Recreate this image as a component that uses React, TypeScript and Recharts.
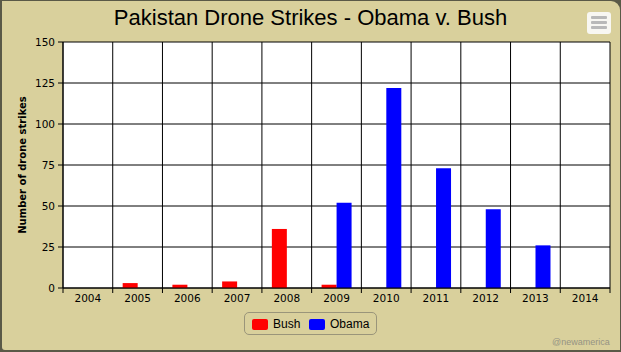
import React from 'react';
import { BarChart, Bar, XAxis, YAxis, CartesianGrid } from 'recharts';

const years = ['2004', '2005', '2006', '2007', '2008', '2009', '2010', '2011', '2012', '2013', '2014'];
const bushStrikes = [0, 3, 2, 4, 36, 2, 0, 0, 0, 0, 0];
const obamaStrikes = [0, 0, 0, 0, 0, 52, 122, 73, 48, 26, 0];
const yTicks = [0, 25, 50, 75, 100, 125, 150];

const data = years.map((y, i) => ({ year: y, bush: bushStrikes[i], obama: obamaStrikes[i] }));

const TICK_FONT = '"DejaVu Sans", Verdana, sans-serif';

const XTick = (props: any) => {
  const { x, y, payload, index, visibleTicksCount } = props;
  const half = payload && payload.offset ? payload.offset : 24.86;
  const isLast = index === (visibleTicksCount ?? years.length) - 1;
  return (
    <g>
      <line x1={x - half} x2={x - half} y1={y} y2={y + 5} stroke="#000" />
      {isLast && <line x1={x + half} x2={x + half} y1={y} y2={y + 5} stroke="#000" />}
      <text x={x} y={y + 14} textAnchor="middle" fontSize={10.5} fontFamily={TICK_FONT} fill="#000">
        {payload.value}
      </text>
    </g>
  );
};

const YLabel = (props: any) => {
  const vb = props.viewBox || { y: 42, height: 246 };
  const cy = vb.y + vb.height / 2;
  return (
    <text
      x={22}
      y={cy}
      transform={`rotate(-90, 22, ${cy})`}
      textAnchor="middle"
      dominantBaseline="central"
      fontSize={10}
      fontWeight="bold"
      fontFamily={TICK_FONT}
      fill="#000"
    >
      Number of drone strikes
    </text>
  );
};

export default function App() {
  return (
    <div style={{ position: 'fixed', left: 0, top: 0, width: 621, height: 352, background: '#5a5947', overflow: 'hidden' }}>
      <div
        style={{
          position: 'absolute',
          left: 2,
          top: 1,
          width: 618,
          height: 349,
          background: '#d9d09c',
          borderTopRightRadius: 9,
          borderBottomLeftRadius: 3,
        }}
      />
      <div
        style={{
          position: 'absolute',
          left: 0,
          top: 5,
          width: 621,
          textAlign: 'center',
          fontFamily: '"Liberation Sans", Arial, sans-serif',
          fontSize: 22,
          color: '#000',
          lineHeight: '26px',
        }}
      >
        Pakistan Drone Strikes - Obama v. Bush
      </div>
      <div
        style={{
          position: 'absolute',
          left: 587,
          top: 12,
          width: 24,
          height: 22,
          background: '#f8f7f2',
          borderRadius: 3,
        }}
      >
        {[4, 9, 14].map((t) => (
          <div key={t} style={{ position: 'absolute', left: 4, top: t, width: 16, height: 3, background: '#b9b9b9', borderRadius: 1 }} />
        ))}
      </div>
      <div style={{ position: 'absolute', left: 0, top: 0 }}>
        <BarChart
          width={621}
          height={352}
          data={data}
          margin={{ top: 42, right: 11, bottom: 34, left: 0 }}
          barCategoryGap="20%"
          barGap={0}
        >
          <CartesianGrid
            stroke="#000"
            strokeOpacity={1}
            fill="#ffffff"
            verticalCoordinatesGenerator={({ offset }: any) =>
              years.map((_, i) => offset.left + (i * offset.width) / years.length).concat([offset.left + offset.width])
            }
          />
          <XAxis
            dataKey="year"
            height={30}
            axisLine={{ stroke: '#000' }}
            tickLine={false}
            tickSize={0}
            tickMargin={0}
            interval={0}
            tick={<XTick />}
          />
          <YAxis
            width={63}
            domain={[0, 150]}
            ticks={yTicks}
            interval={0}
            axisLine={{ stroke: '#000' }}
            tickLine={{ stroke: '#000' }}
            tickSize={5}
            tickMargin={3}
            tick={{ fontSize: 10.5, fontFamily: TICK_FONT, fill: '#000' }}
            label={<YLabel />}
          />
          <Bar dataKey="bush" name="Bush" fill="#ff0000" isAnimationActive={false} />
          <Bar dataKey="obama" name="Obama" fill="#0000ff" isAnimationActive={false} />
        </BarChart>
      </div>
      <div
        style={{
          position: 'absolute',
          left: 244,
          top: 312,
          width: 131,
          height: 21,
          border: '1px solid #9a957a',
          borderRadius: 5,
          fontFamily: '"Liberation Sans", Arial, sans-serif',
          fontSize: 12,
          color: '#000',
        }}
      >
        <div style={{ position: 'absolute', left: 7, top: 6, width: 16, height: 11, background: '#ff0000', borderRadius: 2 }} />
        <div style={{ position: 'absolute', left: 28, top: 4, lineHeight: '14px' }}>Bush</div>
        <div style={{ position: 'absolute', left: 64, top: 6, width: 16, height: 11, background: '#0000ff', borderRadius: 2 }} />
        <div style={{ position: 'absolute', left: 85, top: 4, lineHeight: '14px' }}>Obama</div>
      </div>
      <div
        style={{
          position: 'absolute',
          left: 552,
          top: 337,
          fontFamily: '"Liberation Sans", Arial, sans-serif',
          fontSize: 9,
          color: '#959383',
          lineHeight: '11px',
        }}
      >
        @newamerica
      </div>
    </div>
  );
}
